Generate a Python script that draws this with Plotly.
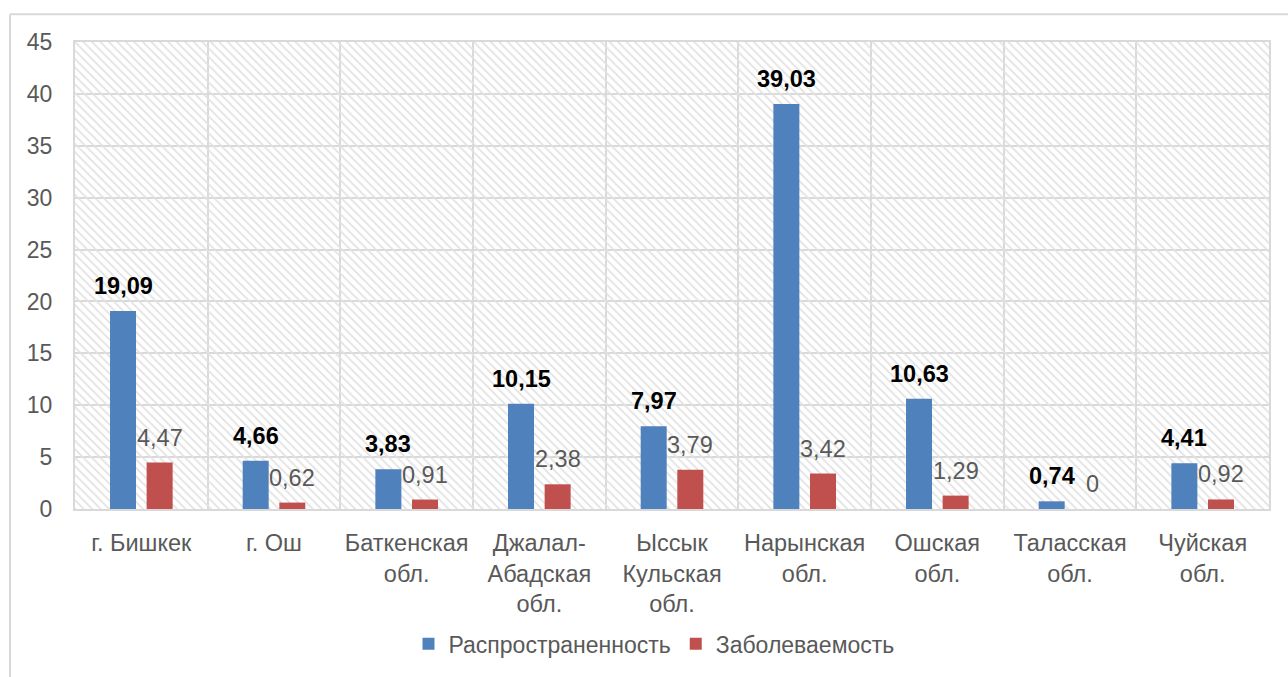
import plotly.graph_objects as go

categories = ["г. Бишкек", "г. Ош", "Баткенская<br>обл.", "Джалал-<br>Абадская<br>обл.",
              "Ыссык<br>Кульская<br>обл.", "Нарынская<br>обл.", "Ошская<br>обл.",
              "Таласская<br>обл.", "Чуйская<br>обл."]
prevalence = [19.09, 4.66, 3.83, 10.15, 7.97, 39.03, 10.63, 0.74, 4.41]
incidence = [4.47, 0.62, 0.91, 2.38, 3.79, 3.42, 1.29, 0, 0.92]
series_names = ["Распространенность", "Заболеваемость"]
y_ticks = [0, 5, 10, 15, 20, 25, 30, 35, 40, 45]

def fmt(v):
    if v == int(v):
        return str(int(v))
    return ("%.2f" % v).replace(".", ",")

FONT = "Liberation Sans, Arial, sans-serif"
GRAY = "#595959"

W, H = 1288, 677
L, R, T, B = 75, 1269, 42, 513
pw, ph = R - L, B - T
cat_px = pw / len(categories)

BAR_W = 0.196
OFF_BLUE = -0.236
OFF_RED = 0.04

fig = go.Figure()

# hatched plot-area background
fig.add_trace(go.Bar(
    x=[categories[0]], y=[y_ticks[-1]], width=[len(categories)], offset=-0.5,
    marker=dict(color="rgba(0,0,0,0)", line=dict(width=0),
                pattern=dict(shape="\\", fgcolor="#e2e2e2", bgcolor="rgba(0,0,0,0)",
                             size=6, solidity=0.3, fillmode="replace")),
    hoverinfo="skip", showlegend=False,
))

fig.add_trace(go.Bar(
    x=categories, y=prevalence, name=series_names[0],
    width=BAR_W, offset=OFF_BLUE,
    marker=dict(color="#4F81BD", line=dict(width=0)),
))
fig.add_trace(go.Bar(
    x=categories, y=incidence, name=series_names[1],
    width=BAR_W, offset=OFF_RED,
    marker=dict(color="#C0504D", line=dict(width=0)),
))

annotations = []
for c, v in zip(categories, prevalence):
    annotations.append(dict(
        x=c, y=v, xref="x", yref="y", text="<b>" + fmt(v) + "</b>", showarrow=False,
        xanchor="center", yanchor="bottom", yshift=10,
        xshift=(OFF_BLUE + BAR_W / 2) * cat_px,
        font=dict(family=FONT, size=23.5, color="#000000")))
for c, v in zip(categories, incidence):
    annotations.append(dict(
        x=c, y=v, xref="x", yref="y", text=fmt(v), showarrow=False,
        xanchor="center", yanchor="bottom", yshift=10,
        xshift=(OFF_RED + BAR_W / 2) * cat_px + (4 if v == 0 else 0),
        font=dict(family=FONT, size=23.5, color=GRAY)))

def px(x):
    return (x - L) / pw

def py(y):
    return (B - y) / ph

fig.update_layout(
    width=W, height=H,
    margin=dict(l=L, r=W - R, t=T, b=H - B),
    barmode="overlay",
    paper_bgcolor="white", plot_bgcolor="white",
    font=dict(family=FONT, size=22, color=GRAY),
    separators=", ",
    showlegend=True,
    annotations=annotations,
    legend=dict(orientation="h", x=px(654), xanchor="center", y=py(649), yanchor="middle",
                font=dict(size=23, color=GRAY), itemwidth=30, traceorder="normal",
                bgcolor="rgba(0,0,0,0)"),
    xaxis=dict(type="category", range=[-0.5, len(categories) - 0.5], tickson="boundaries",
               showgrid=True, gridcolor="#d9d9d9", gridwidth=2,
               showline=True, linecolor="#d9d9d9", linewidth=2,
               ticks="", ticklabelstandoff=12, fixedrange=True,
               tickfont=dict(size=23.5, color=GRAY), mirror=True),
    yaxis=dict(range=[0, 45], tickvals=y_ticks, showgrid=True, gridcolor="#d9d9d9", gridwidth=2,
               zeroline=False, showline=True, linecolor="#d9d9d9", linewidth=2, mirror=True,
               ticks="", ticklabelstandoff=16, tickfont=dict(size=23, color=GRAY), fixedrange=True),
    shapes=[
        dict(type="line", xref="paper", yref="paper", x0=px(10), x1=px(10), y0=py(14), y1=py(700),
             line=dict(color="#d9d9d9", width=2)),
        dict(type="line", xref="paper", yref="paper", x0=px(10), x1=px(1300), y0=py(14), y1=py(14),
             line=dict(color="#d9d9d9", width=2)),
    ],
)

fig.write_html("out.html")
